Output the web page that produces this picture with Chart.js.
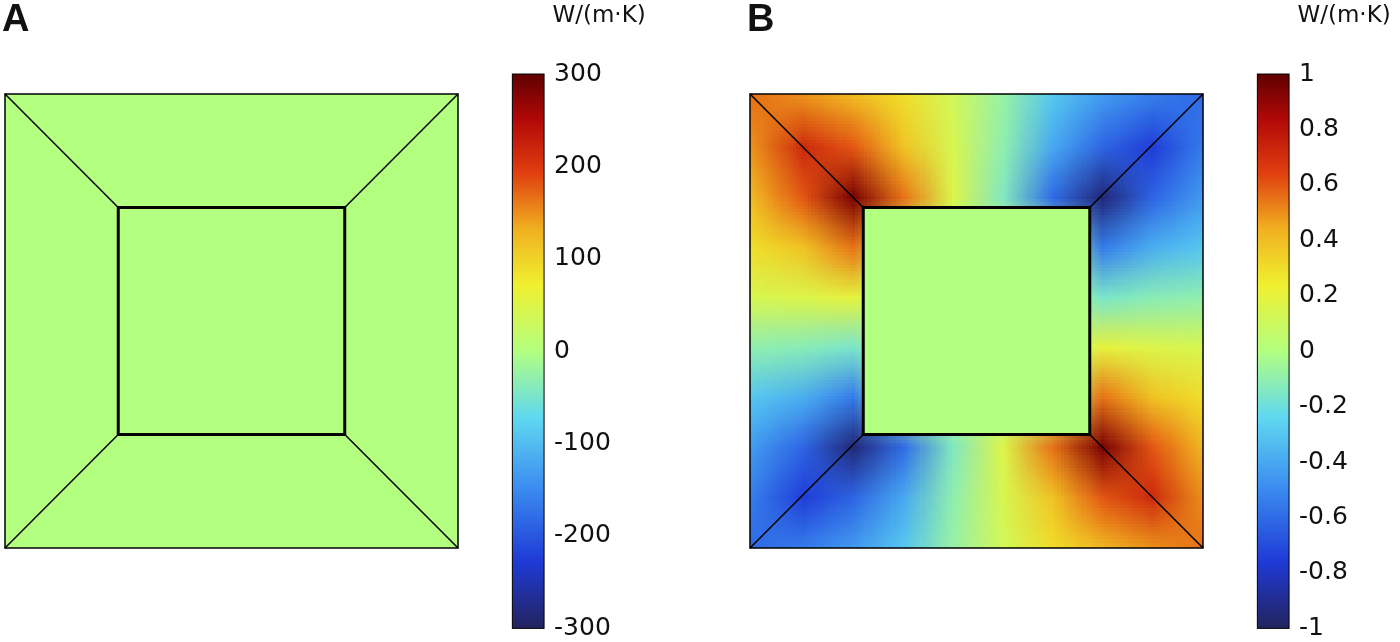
<!DOCTYPE html>
<html><head><meta charset="utf-8">
<script src="https://cdn.jsdelivr.net/npm/chart.js@4"></script>
<style>
body{margin:0;background:#fff;width:1400px;height:642px;position:relative;overflow:hidden}
.p{position:absolute;top:0;height:642px}
</style></head><body>
<div class="p" style="left:0;width:700px"><canvas id="a"></canvas></div>
<div class="p" style="left:745px;width:655px"><canvas id="b"></canvas></div>
<script>
// colorbar ticks
const ticksA = [300, 200, 100, 0, -100, -200, -300];
const ticksB = [1, 0.8, 0.6, 0.4, 0.2, 0, -0.2, -0.4, -0.6, -0.8, -1];
const unit = "W/(m·K)";

// field values, rows top to bottom, 10x10 over the outer square
const fieldA = [
  [0,0,0,0,0,0,0,0,0,0],
  [0,0,0,0,0,0,0,0,0,0],
  [0,0,0.05,0.08,0.08,0.08,0.08,0.05,0,0],
  [0,0,0,0,0,0,0,0,0,0],
  [0,0,0,0,0,0,0,0,0,0],
  [0,0,0,0,0,0,0,0,0,0],
  [0,0,0,0,0,0,0,0,0,0],
  [0,0,0.05,0.08,0.08,0.08,0.08,0.05,0,0],
  [0,0,0,0,0,0,0,0,0,0],
  [0,0,0,0,0,0,0,0,0,0]
];
const fieldB = [
  [0.55,0.5,0.42,0.3,0.12,-0.08,-0.3,-0.45,-0.55,-0.6],
  [0.5,0.72,0.6,0.38,0.14,-0.1,-0.4,-0.62,-0.75,-0.55],
  [0.42,0.6,0.95,0.55,0.16,-0.14,-0.6,-0.95,-0.62,-0.45],
  [0.3,0.38,0.55,0,0,0,0,-0.55,-0.38,-0.3],
  [0.14,0.16,0.2,0,0,0,0,-0.16,-0.12,-0.1],
  [-0.1,-0.12,-0.16,0,0,0,0,0.2,0.16,0.14],
  [-0.3,-0.38,-0.55,0,0,0,0,0.55,0.38,0.3],
  [-0.45,-0.62,-0.95,-0.6,-0.14,0.16,0.55,0.95,0.6,0.42],
  [-0.55,-0.75,-0.62,-0.4,-0.1,0.14,0.38,0.6,0.72,0.5],
  [-0.6,-0.55,-0.45,-0.3,-0.08,0.12,0.3,0.42,0.5,0.55]
];

const stops = [[0,'#23235e'],[0.12,'#1f3ad6'],[0.25,'#3a8af0'],[0.38,'#5fd8f0'],[0.5,'#b3ff80'],
  [0.62,'#f0f030'],[0.72,'#f0b020'],[0.82,'#e04010'],[0.92,'#b00808'],[1,'#600000']];
function hex(h){return [1,3,5].map(i=>parseInt(h.substr(i,2),16));}
function cmap(t){
  t=Math.max(0,Math.min(1,t));
  for(let i=1;i<stops.length;i++){
    if(t<=stops[i][0]){
      const a=hex(stops[i-1][1]),b=hex(stops[i][1]);
      const f=(t-stops[i-1][0])/(stops[i][0]-stops[i-1][0]);
      return a.map((v,k)=>Math.round(v+(b[k]-v)*f));
    }
  }
  return hex(stops[stops.length-1][1]);
}

function panel(id, label, field, ticks, vmax, fmt, width){
  const pxu = 45.3;
  const plugin = {
    id:'field',
    afterDraw(chart){
      const ctx=chart.ctx, xs=chart.scales.x, ys=chart.scales.y;
      const X=v=>xs.getPixelForValue(v), Y=v=>ys.getPixelForValue(v);
      // field
      const n=field.length, off=document.createElement('canvas');
      off.width=n; off.height=n;
      const oc=off.getContext('2d'), img=oc.createImageData(n,n);
      field.forEach((row,r)=>row.forEach((v,c)=>{
        const col=cmap((v/vmax+1)/2), k=(r*n+c)*4;
        img.data[k]=col[0];img.data[k+1]=col[1];img.data[k+2]=col[2];img.data[k+3]=255;
      }));
      oc.putImageData(img,0,0);
      ctx.save();
      ctx.imageSmoothingEnabled=true;
      ctx.beginPath(); ctx.rect(X(0),Y(10),X(10)-X(0),Y(0)-Y(10)); ctx.clip();
      ctx.drawImage(off,0,0,n,n,X(0)-(X(10)-X(0))/n/2,Y(10)-(Y(0)-Y(10))/n/2,(X(10)-X(0))*(n+1)/n,(Y(0)-Y(10))*(n+1)/n);
      ctx.restore();
      // inner square
      ctx.fillStyle='rgb('+cmap(0.5).join(',')+')';
      ctx.fillRect(X(2.5),Y(7.5),X(7.5)-X(2.5),Y(2.5)-Y(7.5));
      ctx.strokeStyle='#000'; ctx.lineWidth=1.5;
      ctx.strokeRect(X(0),Y(10),X(10)-X(0),Y(0)-Y(10));
      ctx.beginPath();
      [[0,0,2.5,2.5],[10,0,7.5,2.5],[0,10,2.5,7.5],[10,10,7.5,7.5]].forEach(s=>{
        ctx.moveTo(X(s[0]),Y(s[1])); ctx.lineTo(X(s[2]),Y(s[3]));
      });
      ctx.stroke();
      ctx.lineWidth=3;
      ctx.strokeRect(X(2.5),Y(7.5),X(7.5)-X(2.5),Y(2.5)-Y(7.5));
      // colorbar
      const cbX0=X(11.2), cbX1=X(11.9);
      const cbY=v=>Y(-1.77+(v+vmax)/(2*vmax)*12.21);
      const g=ctx.createLinearGradient(0,cbY(-vmax),0,cbY(vmax));
      stops.forEach(s=>g.addColorStop(s[0],s[1]));
      ctx.fillStyle=g;
      ctx.fillRect(cbX0,cbY(vmax),cbX1-cbX0,cbY(-vmax)-cbY(vmax));
      ctx.lineWidth=1; ctx.strokeStyle='#000';
      ctx.strokeRect(cbX0,cbY(vmax),cbX1-cbX0,cbY(-vmax)-cbY(vmax));
      ctx.fillStyle='#111'; ctx.font='25px "DejaVu Sans"'; ctx.textBaseline='middle'; ctx.textAlign='left';
      ticks.forEach(t=>ctx.fillText(fmt(t),cbX1+10,cbY(t)));
      ctx.textAlign='center'; ctx.font='23px "DejaVu Sans"';
      ctx.fillText(unit,cbX1+55,16);
      ctx.textAlign='left'; ctx.font='bold 38px "Liberation Sans"';
      ctx.fillText(label,X(0)-3,21);
    }
  };
  new Chart(document.getElementById(id),{
    type:'scatter',
    data:{datasets:[{data:[]}]},
    options:{
      responsive:true, maintainAspectRatio:false, animation:false,
      layout:{padding:0},
      plugins:{legend:{display:false},tooltip:{enabled:false}},
      scales:{
        x:{display:false,min:-5/pxu,max:-5/pxu+width/pxu},
        y:{display:false,min:-94/45.4,max:10+94/45.4}
      }
    },
    plugins:[plugin]
  });
}
panel('a','A',fieldA,ticksA,300,v=>String(v),700);
panel('b','B',fieldB,ticksB,1,v=>String(v),655);
</script>
</body></html>
